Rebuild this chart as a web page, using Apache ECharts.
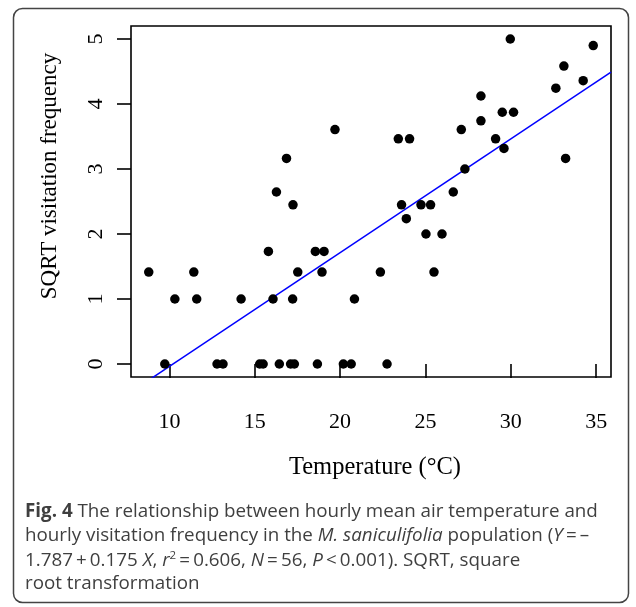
<!DOCTYPE html>
<html>
<head>
<meta charset="utf-8">
<script src="https://cdn.jsdelivr.net/npm/echarts@6/dist/echarts.min.js"></script>
<style>
html,body{margin:0;padding:0;background:#fff;}
#c{width:636px;height:607px;}
</style>
</head>
<body>
<div id="c"></div>
<script>
// Data
var temperature = [8.79, 9.73, 10.32, 11.43, 11.6, 12.79, 13.14, 14.2, 15.29, 15.49, 15.8, 16.07, 16.44, 16.27, 16.86, 17.24, 17.22, 17.1, 17.32, 17.52, 18.55, 18.67, 18.94, 19.06, 19.7, 20.19, 20.65, 20.84, 22.36, 22.75, 23.41, 23.6, 23.88, 24.07, 24.74, 25.03, 25.3, 25.5, 25.97, 26.63, 27.1, 27.31, 28.25, 28.25, 29.11, 29.5, 29.6, 29.97, 30.16, 32.64, 33.11, 33.21, 34.24, 34.83];
var sqrtFreq = [1.414, 0, 1, 1.414, 1, 0, 0, 1, 0, 0, 1.732, 1, 0, 2.646, 3.162, 2.449, 1, 0, 0, 1.414, 1.732, 0, 1.414, 1.732, 3.606, 0, 0, 1, 1.414, 0, 3.464, 2.449, 2.236, 3.464, 2.449, 2, 2.449, 1.414, 2, 2.646, 3.606, 3, 4.123, 3.742, 3.464, 3.873, 3.317, 5, 3.873, 4.243, 4.583, 3.162, 4.359, 4.899];
var xTicks = [10, 15, 20, 25, 30, 35];
var yTicks = [0, 1, 2, 3, 4, 5];
var regIntercept = -1.787;
var regSlope = 0.175;

var xMin = 7.75, xMax = 35.87, yMin = -0.2, yMax = 5.2;
var points = temperature.map(function (t, i) { return [t, sqrtFreq[i]]; });
var regLine = [[xMin, regIntercept + regSlope * xMin], [xMax, regIntercept + regSlope * xMax]];

var serif = '"Liberation Serif", "DejaVu Serif", serif';
var sans = '"Open Sans", "Noto Sans", sans-serif';

var chart = echarts.init(document.getElementById('c'), null, {renderer: 'canvas'});
var capX = 25;
var fs = 18.8;
var txtCol = '#3f3f3f';
var rich = {
  b: {fontFamily: sans, fontSize: fs, fontWeight: 'bold', color: '#222'},
  n: {fontFamily: sans, fontSize: fs, color: txtCol},
  i: {fontFamily: sans, fontSize: fs, fontStyle: 'italic', color: txtCol},
  s: {fontFamily: sans, fontSize: 11.5, color: txtCol, verticalAlign: 'top', padding: [0, 0, 9, 0]}
};
function capLine(y, txt) {
  return {type: 'text', left: capX, top: y, style: {text: txt, rich: rich, fontFamily: sans, fontSize: fs, fill: txtCol}};
}

chart.setOption({
  animation: false,
  grid: {left: 131, right: 25, top: 26, bottom: 230, show: true, borderColor: '#000', borderWidth: 1.6, backgroundColor: 'transparent'},
  xAxis: {
    type: 'value', min: xMin, max: xMax,
    axisLine: {show: false},
    splitLine: {show: false},
    axisTick: {show: true, length: 14, inside: false, lineStyle: {color: '#000', width: 1.6}, customValues: xTicks},
    axisLabel: {customValues: xTicks, margin: 34, color: '#000', fontFamily: serif, fontSize: 22}
  },
  yAxis: {
    type: 'value', min: yMin, max: yMax,
    axisLine: {show: false},
    splitLine: {show: false},
    axisTick: {show: true, length: 14, inside: false, lineStyle: {color: '#000', width: 1.6}, customValues: yTicks},
    axisLabel: {customValues: yTicks, margin: 35, rotate: 90, color: '#000', fontFamily: serif, fontSize: 22, verticalAlign: 'middle', align: 'center'}
  },
  series: [
    {type: 'scatter', data: points, symbol: 'circle', symbolSize: 9.5, itemStyle: {color: '#000', opacity: 1}, z: 3},
    {type: 'line', data: regLine, showSymbol: false, symbol: 'none', clip: true, lineStyle: {color: '#0000ff', width: 1.5}, z: 2}
  ],
  graphic: [
    {type: 'rect', shape: {x: 13.5, y: 8.5, width: 615, height: 594, r: 9}, style: {fill: 'none', stroke: '#444', lineWidth: 1.5}, silent: true},
    {type: 'text', x: 375, y: 468, style: {text: 'Temperature (\u00B0C)', fontFamily: serif, fontSize: 24.5, fill: '#000', align: 'center', verticalAlign: 'middle'}},
    {type: 'text', x: 50, y: 176, rotation: Math.PI / 2, style: {text: 'SQRT visitation frequency', fontFamily: serif, fontSize: 23, fill: '#000', align: 'center', verticalAlign: 'middle'}},
    capLine(502, '{b|Fig. 4} {n|The relationship between hourly mean air temperature and}'),
    capLine(526, '{n|hourly visitation frequency in the }{i|M. saniculifolia}{n| population (}{i|Y}{n|\u2009=\u2009\u2013}'),
    capLine(550, '{n|1.787\u2009+\u20090.175 }{i|X}{n|, }{i|r}{s|2}{n|\u2009=\u20090.606, }{i|N}{n|\u2009=\u200956, }{i|P}{n|\u2009<\u20090.001). SQRT, square}'),
    capLine(574, '{n|root transformation}')
  ]
});
</script>
</body>
</html>
